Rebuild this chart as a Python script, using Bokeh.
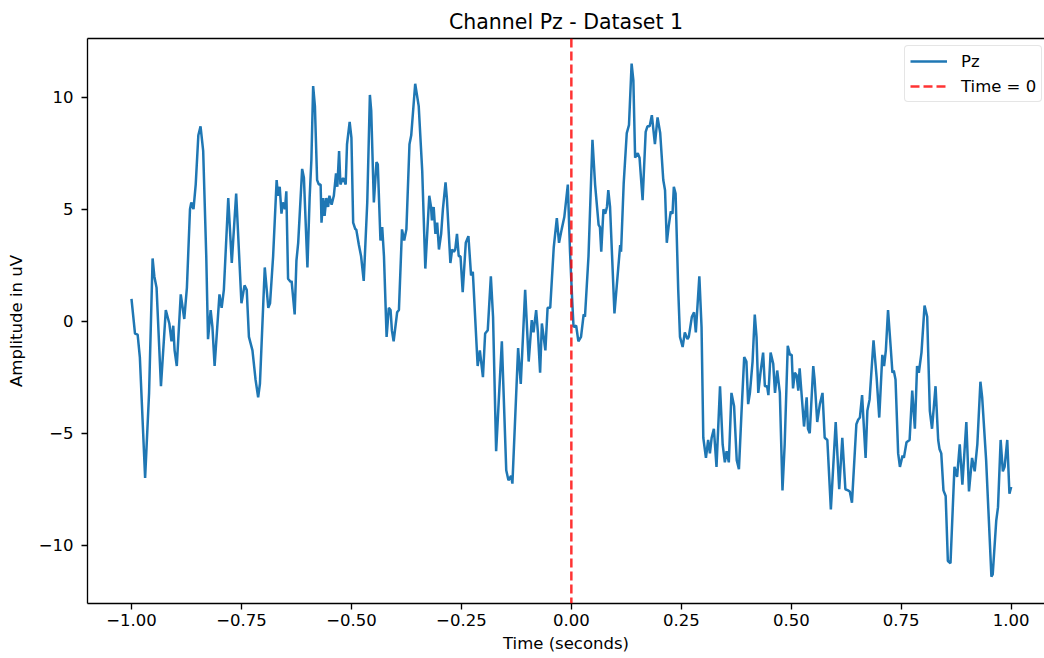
from bokeh.plotting import figure
from bokeh.models import FixedTicker, LinearAxis, Span, Legend, LegendItem, Range1d
from bokeh.embed import file_html
from bokeh.resources import INLINE

# ---------------- data ----------------
title_text = "Channel Pz - Dataset 1"
x_label = "Time (seconds)"
y_label = "Amplitude in uV"
channel_name = "Pz"
event_label = "Time = 0"
event_time = 0.0

x_ticks = [-1.0, -0.75, -0.5, -0.25, 0.0, 0.25, 0.5, 0.75, 1.0]
x_tick_labels = ["\u22121.00", "\u22120.75", "\u22120.50", "\u22120.25", "0.00",
                 "0.25", "0.50", "0.75", "1.00"]
y_ticks = [-10, -5, 0, 5, 10]
y_tick_labels = ["\u221210", "\u22125", "0", "5", "10"]

time_s = [
    -1.000, -0.992, -0.986, -0.981, -0.969, -0.960, -0.952, -0.948, -0.943, -0.933,
    -0.922, -0.914, -0.909, -0.905, -0.902, -0.897, -0.888, -0.880, -0.874, -0.867,
    -0.864, -0.859, -0.854, -0.848, -0.843, -0.837, -0.830, -0.826, -0.820, -0.816,
    -0.811, -0.800, -0.795, -0.790, -0.780, -0.772, -0.762, -0.750, -0.743, -0.738,
    -0.733, -0.725, -0.718, -0.712, -0.708, -0.697, -0.689, -0.685, -0.678, -0.670,
    -0.667, -0.663, -0.659, -0.656, -0.651, -0.648, -0.644, -0.638, -0.636, -0.629,
    -0.625, -0.621, -0.612, -0.608, -0.600, -0.595, -0.591, -0.587, -0.583, -0.578,
    -0.574, -0.570, -0.568, -0.564, -0.561, -0.557, -0.553, -0.550, -0.545, -0.540,
    -0.535, -0.532, -0.528, -0.525, -0.519, -0.513, -0.510, -0.504, -0.500, -0.496,
    -0.491, -0.489, -0.483, -0.478, -0.472, -0.464, -0.458, -0.455, -0.449, -0.443,
    -0.440, -0.434, -0.430, -0.426, -0.420, -0.415, -0.411, -0.408, -0.404, -0.396,
    -0.392, -0.385, -0.380, -0.375, -0.368, -0.364, -0.355, -0.347, -0.339, -0.332,
    -0.323, -0.319, -0.317, -0.313, -0.309, -0.305, -0.301, -0.296, -0.292, -0.286,
    -0.283, -0.275, -0.271, -0.267, -0.264, -0.260, -0.256, -0.252, -0.247, -0.240,
    -0.234, -0.228, -0.224, -0.213, -0.208, -0.201, -0.196, -0.190, -0.183, -0.178,
    -0.171, -0.158, -0.148, -0.143, -0.137, -0.134, -0.121, -0.115, -0.105, -0.097,
    -0.090, -0.086, -0.080, -0.076, -0.071, -0.067, -0.059, -0.054, -0.048, -0.040,
    -0.033, -0.028, -0.022, -0.016, -0.008, -0.003, 0.002, 0.005, 0.011, 0.016,
    0.022, 0.028, 0.031, 0.039, 0.048, 0.054, 0.062, 0.065, 0.068, 0.073,
    0.077, 0.081, 0.084, 0.088, 0.098, 0.111, 0.113, 0.119, 0.126, 0.131,
    0.137, 0.141, 0.145, 0.151, 0.155, 0.162, 0.169, 0.173, 0.178, 0.183,
    0.190, 0.196, 0.202, 0.209, 0.213, 0.217, 0.221, 0.226, 0.230, 0.233,
    0.237, 0.243, 0.247, 0.253, 0.258, 0.264, 0.267, 0.274, 0.279, 0.283,
    0.291, 0.296, 0.300, 0.306, 0.311, 0.315, 0.319, 0.324, 0.330, 0.338,
    0.344, 0.349, 0.353, 0.358, 0.364, 0.370, 0.376, 0.381, 0.387, 0.393,
    0.398, 0.402, 0.406, 0.412, 0.417, 0.421, 0.425, 0.430, 0.436, 0.440,
    0.445, 0.448, 0.453, 0.459, 0.463, 0.468, 0.474, 0.480, 0.485, 0.492,
    0.497, 0.501, 0.504, 0.508, 0.512, 0.516, 0.519, 0.529, 0.535, 0.538,
    0.542, 0.550, 0.553, 0.559, 0.565, 0.571, 0.576, 0.582, 0.590, 0.601,
    0.609, 0.616, 0.623, 0.629, 0.633, 0.638, 0.648, 0.652, 0.656, 0.661,
    0.669, 0.673, 0.678, 0.687, 0.694, 0.700, 0.707, 0.711, 0.715, 0.720,
    0.726, 0.730, 0.733, 0.737, 0.743, 0.747, 0.753, 0.756, 0.762, 0.769,
    0.775, 0.781, 0.786, 0.790, 0.796, 0.803, 0.809, 0.815, 0.820, 0.828,
    0.834, 0.837, 0.841, 0.846, 0.851, 0.856, 0.862, 0.871, 0.877, 0.883,
    0.889, 0.898, 0.904, 0.911, 0.917, 0.923, 0.930, 0.934, 0.943, 0.955,
    0.958, 0.966, 0.970, 0.976, 0.981, 0.985, 0.991, 0.996, 1.000,
]

amplitude_uv = [
    1.0, -0.55, -0.6, -1.6, -7.0, -3.2, 2.8, 2.0, 1.5, -2.9,
    0.5, -0.1, -0.9, -0.2, -1.3, -2.0, 1.2, 0.1, 1.5, 5.0,
    5.3, 5.0, 6.1, 8.3, 8.7, 7.6, 2.9, -0.8, 0.5, -0.25,
    -2.0, 1.2, 0.6, 1.4, 5.5, 2.6, 5.7, 0.8, 1.6, 1.4,
    -0.7, -1.3, -2.6, -3.4, -2.8, 2.4, 0.6, 0.8, 2.9, 6.3,
    5.6, 6.0, 4.8, 5.3, 5.0, 5.8, 1.9, 1.75, 1.8, 0.3,
    2.7, 3.5, 6.8, 6.4, 2.4, 5.5, 7.2, 10.5, 9.6, 6.3,
    6.1, 6.1, 4.4, 5.5, 4.7, 5.5, 5.1, 5.6, 5.2, 5.6,
    6.6, 6.0, 7.6, 6.1, 6.4, 6.1, 7.9, 8.9, 8.2, 4.4,
    4.1, 4.1, 3.4, 2.9, 1.8, 5.3, 10.1, 9.4, 5.3, 7.1,
    7.0, 3.6, 4.2, 2.9, -0.7, 0.6, 0.5, -0.4, -0.9, 0.4,
    0.5, 4.1, 3.6, 4.1, 7.9, 8.3, 10.6, 9.6, 6.7, 2.35,
    5.6, 5.1, 4.5, 5.1, 3.9, 4.4, 3.2, 3.9, 5.0, 6.2,
    5.5, 2.6, 3.2, 3.1, 3.2, 3.9, 2.9, 2.9, 1.3, 3.5,
    3.8, 2.05, 2.2, -2.0, -1.3, -2.5, -0.55, -0.4, 2.0, 0.2,
    -5.8, -0.9, -6.65, -7.1, -6.9, -7.25, -1.2, -2.8, 1.4, -1.8,
    0.05, -0.5, 0.5, -0.5, -2.3, -0.1, -1.3, 0.6, 0.6, 3.3,
    4.6, 3.5, 4.1, 4.65, 6.1, 3.1, 0.9, -0.25, -0.2, -0.9,
    -0.7, 0.3, 0.2, 2.9, 8.1, 6.1, 4.3, 4.2, 3.1, 5.0,
    4.8, 5.1, 5.85, 5.1, 0.35, 3.4, 3.1, 6.15, 8.4, 8.75,
    11.5, 10.75, 7.3, 7.5, 7.3, 5.4, 8.45, 8.7, 8.7, 9.2,
    7.9, 9.1, 8.4, 6.3, 5.85, 3.5, 4.2, 4.9, 4.8, 6.0,
    5.7, 1.4, -0.7, -1.15, -0.5, -0.8, -0.7, 0.2, 0.4, -0.5,
    2.0, -0.25, -5.2, -6.1, -5.3, -5.9, -5.2, -4.8, -6.5, -2.9,
    -5.5, -6.3, -5.8, -6.3, -3.2, -3.8, -6.2, -6.6, -4.0, -1.6,
    -1.8, -3.7, -3.2, -1.8, 0.3, -0.7, -3.2, -2.3, -1.4, -2.9,
    -2.9, -3.3, -1.4, -1.9, -3.2, -2.2, -3.2, -7.55, -5.5, -1.1,
    -1.5, -1.5, -3.0, -2.3, -2.4, -3.1, -2.1, -4.7, -3.4, -4.8,
    -5.0, -2.0, -2.6, -4.5, -3.7, -3.2, -5.2, -5.3, -8.4, -4.5,
    -7.5, -5.2, -7.5, -7.55, -7.6, -8.1, -4.6, -4.4, -4.3, -3.3,
    -6.1, -4.0, -3.5, -0.85, -2.5, -4.3, -1.5, -2.0, -1.3, 0.5,
    -1.15, -2.3, -2.2, -2.6, -5.9, -6.5, -6.0, -6.1, -5.4, -5.3,
    -3.1, -4.8, -2.0, -2.3, -1.4, 0.7, 0.2, -4.0, -4.8, -2.9,
    -5.3, -5.7, -5.9, -7.55, -7.8, -10.7, -10.8, -6.5, -6.95, -5.5,
    -7.3, -4.5, -7.6, -6.1, -6.7, -5.5, -2.7, -3.4, -6.2, -11.4,
    -11.3, -8.9, -8.3, -5.3, -6.7, -6.5, -5.3, -7.7, -7.4,
]

assert len(time_s) == len(amplitude_uv)

# ---------------- styling ----------------
FONT = "DejaVu Sans"
BLUE = "#1f77b4"
RED = "red"
TICK_FS = "16.5px"
LINE_W = 2.5

p = figure(
    width=1044, height=658,
    output_backend="svg", toolbar_location=None,
    x_range=Range1d(-1.1, 1.0757), y_range=Range1d(-12.6, 12.62),
    min_border_left=87, min_border_right=0, min_border_top=38, min_border_bottom=55,
    title=title_text,
)
p.outline_line_color = None
p.xgrid.visible = False
p.ygrid.visible = False
p.background_fill_color = "white"
p.border_fill_color = "white"

p.title.text_font = FONT
p.title.text_font_size = "20.5px"
p.title.text_font_style = "normal"
p.title.text_color = "black"
p.title.align = "center"

p.xaxis.ticker = FixedTicker(ticks=x_ticks)
p.xaxis.major_label_overrides = {t: l for t, l in zip(x_ticks, x_tick_labels)}
p.yaxis.ticker = FixedTicker(ticks=y_ticks)
p.yaxis.major_label_overrides = {t: l for t, l in zip(y_ticks, y_tick_labels)}
p.xaxis.axis_label = x_label
p.yaxis.axis_label = y_label

for ax in (p.xaxis[0], p.yaxis[0]):
    ax.axis_line_color = "black"
    ax.axis_line_width = 1.33
    ax.major_tick_line_color = "black"
    ax.major_tick_line_width = 1.33
    ax.major_tick_in = 0
    ax.major_tick_out = 6
    ax.minor_tick_line_color = None
    ax.major_label_text_font = FONT
    ax.major_label_text_font_size = TICK_FS
    ax.major_label_text_color = "black"
    ax.axis_label_text_font = FONT
    ax.axis_label_text_font_size = TICK_FS
    ax.axis_label_text_font_style = "normal"
    ax.axis_label_text_color = "black"

p.xaxis.major_label_standoff = 4
p.xaxis.axis_label_standoff = 5
p.yaxis.major_label_standoff = 8
p.yaxis.axis_label_standoff = 10

# top spine
top = LinearAxis(ticker=FixedTicker(ticks=[]), major_label_text_font_size="0px",
                 major_tick_out=0, major_tick_in=0, minor_tick_out=0, minor_tick_in=0,
                 axis_line_color="black", axis_line_width=1.33,
                 major_label_standoff=0)
p.add_layout(top, "above")

# data line
r_line = p.line(time_s, amplitude_uv, line_color=BLUE, line_width=LINE_W)

# event line
span = Span(location=event_time, dimension="height", line_color=RED, line_alpha=0.8,
            line_width=LINE_W, line_dash="9 4")
p.add_layout(span)
# single-point line: draws nothing in the plot, only supplies the legend glyph
r_event = p.line(x=[event_time], y=[0.0], line_color=RED, line_alpha=0.8,
                 line_width=LINE_W, line_dash="9 4")

legend = Legend(
    items=[LegendItem(label=channel_name, renderers=[r_line]),
           LegendItem(label=event_label, renderers=[r_event])],
    location=(817, 501),
    margin=0, padding=5, spacing=5,
    glyph_width=37, glyph_height=20, label_standoff=14,
    label_text_font=FONT, label_text_font_size=TICK_FS, label_text_color="black",
    border_line_color="#cccccc", border_line_width=1.33,
    background_fill_color="white", background_fill_alpha=0.8,
)
if "border_radius" in Legend.properties():
    legend.border_radius = 4
p.add_layout(legend)

open("out.html", "w").write(file_html(p, INLINE))
